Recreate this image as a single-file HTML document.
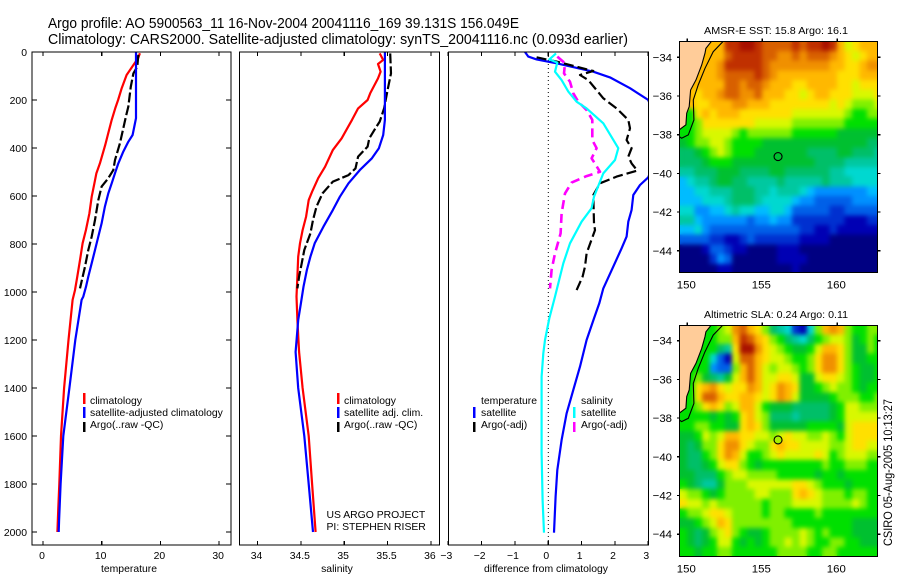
<!DOCTYPE html>
<html>
<head>
<meta charset="utf-8">
<title>Argo profile 5900563_11</title>
<style>
html,body{margin:0;padding:0;background:#fff;}
svg{display:block;font-family:"Liberation Sans",sans-serif;}
text{fill:#000;font-size:10.4px;}
.title{font-size:14.5px;}
.map-tick{font-size:11.4px;}
.frame{fill:none;stroke:#000;stroke-width:1.4;shape-rendering:crispEdges;}
.mid{text-anchor:middle;}
.end{text-anchor:end;}
</style>
</head>
<body>
<svg id="chart" xmlns="http://www.w3.org/2000/svg" width="900" height="580" viewBox="0 0 900 580">
  <defs>
    <clipPath id="clip-temp"><rect x="32" y="52" width="199" height="493"/></clipPath>
    <clipPath id="clip-sal"><rect x="239.5" y="52" width="199.5" height="493"/></clipPath>
    <clipPath id="clip-diff"><rect x="448.5" y="52" width="199.5" height="493"/></clipPath>
    <clipPath id="clip-map1"><rect x="679.5" y="41.5" width="198" height="231"/></clipPath>
    <clipPath id="clip-map2"><rect x="679.5" y="325.5" width="198" height="231"/></clipPath>
    <filter id="soften" x="0" y="0" width="100%" height="100%" color-interpolation-filters="sRGB">
      <feGaussianBlur in="SourceGraphic" stdDeviation="2.4" result="b"/>
      <feMerge><feMergeNode in="SourceGraphic"/><feMergeNode in="b"/></feMerge>
    </filter>
  </defs>

  <text class="title" x="48" y="28" textLength="471" lengthAdjust="spacingAndGlyphs">Argo profile: AO 5900563_11 16-Nov-2004 20041116_169 39.131S 156.049E</text>
  <text class="title" x="48" y="44" textLength="580" lengthAdjust="spacingAndGlyphs">Climatology: CARS2000. Satellite-adjusted climatology: synTS_20041116.nc (0.093d earlier)</text>

  <g id="temp-panel"></g>
  <g id="sal-panel"></g>
  <g id="diff-panel"></g>
  <g id="map1"></g>
  <g id="map2"></g>

  <text class="mid" x="129" y="572">temperature</text>
  <text class="mid" x="337" y="572">salinity</text>
  <text class="mid" x="546" y="572">difference from climatology</text>

  <g>
    <rect x="83" y="393" width="2.5" height="11" fill="#f00"/>
    <rect x="83" y="407" width="2.5" height="11" fill="#00f"/>
    <rect x="83" y="422" width="2.5" height="10" fill="#000"/>
    <text x="90" y="404">climatology</text>
    <text x="90" y="416">satellite-adjusted climatology</text>
    <text x="90" y="428">Argo(..raw -QC)</text>
  </g>
  <g>
    <rect x="337" y="393" width="2.5" height="11" fill="#f00"/>
    <rect x="337" y="407" width="2.5" height="11" fill="#00f"/>
    <rect x="337" y="422" width="2.5" height="10" fill="#000"/>
    <text x="344" y="404">climatology</text>
    <text x="344" y="416">satellite adj. clim.</text>
    <text x="344" y="428">Argo(..raw -QC)</text>
    <text x="326.5" y="518">US ARGO PROJECT</text>
    <text x="326.5" y="530">PI: STEPHEN RISER</text>
  </g>
  <g>
    <rect x="473" y="407" width="2.5" height="11" fill="#00f"/>
    <rect x="473" y="422" width="2.5" height="10" fill="#000"/>
    <rect x="573" y="407" width="2.5" height="11" fill="#0ff"/>
    <rect x="573" y="422" width="2.5" height="10" fill="#f0f"/>
    <text x="481" y="404">temperature</text>
    <text x="481" y="416">satellite</text>
    <text x="481" y="428">Argo(-adj)</text>
    <text x="581" y="404">salinity</text>
    <text x="581" y="416">satellite</text>
    <text x="581" y="428">Argo(-adj)</text>
  </g>

  <text class="mid" x="776" y="34" textLength="144" lengthAdjust="spacingAndGlyphs">AMSR-E SST: 15.8 Argo: 16.1</text>
  <text class="mid" x="776" y="318" textLength="144" lengthAdjust="spacingAndGlyphs">Altimetric SLA: 0.24 Argo: 0.11</text>
  <text transform="translate(892,546) rotate(-90)" textLength="147" lengthAdjust="spacingAndGlyphs" style="font-size:12px">CSIRO 05-Aug-2005 10:13:27</text>
</svg>

<script>
// ---------- profile data ----------
const depthTicks = [0,200,400,600,800,1000,1200,1400,1600,1800,2000];
const tempTicks = [0,10,20,30];
const salTicks = [34,34.5,35,35.5,36];
const salTickLabels = ['34','34.5','35','35.5','36'];
const diffTicks = [-3,-2,-1,0,1,2,3];

const tempClimDepth = [5,26,54,96,151,200,235,283,339,388,464,505,547,603,672,742,797,867,936,992,1033,1200,1400,1600,1800,1900,2000];
const tempClim = [16.5,16.2,15.4,14.25,13.4,12.8,12.3,11.7,11.1,10.6,9.7,9.1,8.75,8.3,7.9,7.3,6.75,6.3,5.85,5.45,5.05,4.35,3.6,3.07,2.78,2.6,2.45];
const tempSatDepth = [0,276,311,346,374,415,464,505,547,589,644,714,769,825,880,936,978,1019,1033,1200,1400,1600,1800,1950,2000];
const tempSat = [15.84,15.84,15.56,15.27,14.53,13.68,12.83,12.26,11.7,11.12,10.55,9.99,9.42,8.86,8.29,7.72,7.32,6.87,6.58,5.5,4.5,3.46,3.0,2.75,2.67];
const tempArgoDepth = [12,61,89,144,228,269,318,381,450,492,526,561,617,700,769,825,894,936,985];
const tempArgo = [16.24,16.07,15.4,14.95,14.53,14.13,13.68,13.1,12.26,11.98,11.12,9.99,9.42,8.86,8.29,7.72,7.15,6.76,6.3];

const salClimDepth = [6,33,50,82,110,172,200,235,283,360,408,478,526,582,617,686,742,797,853,936,1019,1117,1250,1400,1600,1800,2000];
const salClim = [35.41,35.45,35.39,35.42,35.39,35.30,35.27,35.16,35.09,34.97,34.87,34.78,34.70,34.63,34.59,34.56,34.52,34.49,34.47,34.46,34.45,34.46,34.48,34.52,34.59,34.63,34.67];
const salSatDepth = [0,283,346,401,443,492,547,603,658,728,797,853,908,978,1047,1117,1250,1400,1600,1800,2000];
const salSat = [35.47,35.47,35.45,35.40,35.32,35.18,35.05,34.95,34.87,34.76,34.66,34.61,34.57,34.53,34.50,34.47,34.44,34.47,34.54,34.59,34.64];
const salArgoDepth = [6,89,158,235,290,318,360,394,436,485,513,540,589,644,700,756,825,881,936,985];
const salArgo = [35.53,35.54,35.50,35.46,35.41,35.36,35.29,35.27,35.16,35.13,35.05,34.87,34.75,34.68,34.64,34.61,34.54,34.51,34.48,34.46];

const diffTempSatDepth = [0,19,31,47,82,106,151,200,350,450,522,554,596,658,707,769,818,894,985,1047,1110,1200,1311,1408,1506,1617,1742,1853,2003];
const diffTempSat = [-0.70,-0.60,-0.35,0.25,1.35,1.85,2.45,3.0,3.4,3.2,3.0,2.75,2.55,2.50,2.40,2.35,2.20,1.95,1.65,1.53,1.37,1.15,0.95,0.75,0.55,0.40,0.27,0.22,0.17];
const diffSalSatDepth = [6,31,44,82,117,165,207,235,297,401,450,506,603,651,707,797,881,1019,1110,1200,1256,1353,1672,1867,2003];
const diffSalSat = [0.23,0.03,0.27,0.20,0.40,0.60,0.85,1.15,1.65,2.10,2.00,1.65,1.37,1.30,1.00,0.65,0.45,0.20,0.03,-0.10,-0.15,-0.20,-0.20,-0.17,-0.13];
const diffTempArgoDepth = [22,40,79,96,117,193,235,283,318,367,401,436,464,494,519,547,596,714,742,839,894,936,992];
const diffTempArgo = [-0.35,0.25,1.35,0.95,1.20,1.65,2.05,2.40,2.45,2.35,2.50,2.40,2.50,2.67,2.05,1.55,1.35,1.37,1.40,1.15,1.10,1.03,0.85];
const diffSalArgoDepth = [19,47,89,124,172,207,242,283,367,401,443,499,517,544,589,672,756,839,908,985];
const diffSalArgo = [0.27,0.50,0.47,0.65,0.75,0.90,1.15,1.32,1.32,1.45,1.30,1.55,1.15,0.70,0.50,0.40,0.37,0.20,0.10,0.05];

// ---------- map data ----------
const lonTicks = [150,155,160];
const latTicks = [-34,-36,-38,-40,-42,-44];
const colorLevels = ['#000082','#0000b4','#0030d0','#0060e8','#0090ff','#00bcff','#00d8d0','#00c8a0','#00bf68','#00c030','#00e000','#80f000','#d8f800','#ffe000','#ffb800','#f09000','#d86000','#c03000','#a81000'];
const sstGrid = [
[14,14,14,14,14,14,17,17,18,18,17,16,16,16,16,17,16,17,17,18,17,14,12,13,14,14,14],
[14,14,14,14,14,14,16,17,17,17,17,16,16,15,15,16,15,16,16,16,15,14,13,12,13,14,14],
[14,14,14,14,14,15,17,17,17,17,17,16,15,15,15,15,15,15,15,15,14,14,13,13,14,15,15],
[14,14,14,14,14,15,16,16,16,16,17,16,15,14,14,14,14,14,14,14,14,13,13,13,14,14,14],
[14,14,14,14,14,14,16,16,15,16,16,15,14,14,14,13,13,14,14,14,14,13,13,12,13,13,13],
[14,14,13,14,14,15,16,16,15,15,16,14,14,14,13,13,12,13,14,14,13,13,13,12,12,12,13],
[14,14,13,13,14,14,14,15,15,14,14,14,13,13,13,13,13,13,13,13,12,13,12,11,11,11,12],
[10,10,13,14,13,14,14,14,13,13,13,13,13,13,13,12,12,12,12,12,12,12,11,10,10,11,11],
[10,10,11,13,13,13,13,13,13,13,12,12,12,12,12,11,11,11,11,11,11,11,10,10,10,10,10],
[10,10,11,12,12,12,12,11,10,11,11,11,11,11,11,10,10,10,10,10,10,9,9,9,9,9,9],
[9,10,11,11,12,12,11,10,10,10,10,9,9,9,9,9,9,9,9,9,9,9,9,9,9,8,8],
[8,8,9,10,11,12,11,10,10,10,9,9,9,9,9,9,9,8,8,8,8,9,9,8,8,8,7],
[8,8,8,9,10,10,10,9,9,9,9,9,9,9,9,9,9,9,8,8,8,8,7,7,7,7,7],
[7,7,8,8,8,9,9,9,8,8,8,8,9,9,8,8,8,8,8,8,7,7,6,6,6,6,6],
[5,6,7,7,8,9,9,8,8,7,7,7,7,8,7,7,7,7,7,8,7,7,7,6,6,6,6],
[5,5,6,6,7,7,7,8,8,8,7,7,6,7,7,7,6,5,4,4,4,4,4,4,4,5,5],
[5,5,5,6,6,6,7,8,8,8,7,6,6,6,6,5,4,4,3,3,3,3,3,4,4,4,4],
[6,6,4,4,5,5,6,7,6,6,5,5,6,6,5,3,3,3,3,3,2,2,3,3,3,3,3],
[7,7,5,4,4,4,4,4,4,3,4,4,5,4,4,2,2,2,2,2,2,2,1,1,1,2,2],
[5,5,6,4,3,3,3,3,3,3,3,3,3,3,3,3,2,2,1,1,2,1,1,1,1,1,1],
[3,3,3,3,2,2,1,1,2,3,2,2,2,2,2,2,1,1,1,1,0,0,0,0,0,0,0],
[0,0,0,1,3,3,2,1,1,0,0,0,0,1,1,1,0,0,0,0,0,0,0,0,0,0,0],
[0,0,0,0,2,4,3,0,0,0,0,0,0,1,1,1,1,0,0,0,0,0,0,0,0,0,0],
[0,0,0,0,0,1,1,0,0,0,0,0,0,0,0,1,0,0,0,0,0,0,0,0,0,0,0]
];
const slaGrid = [
[10,10,10,10,10,11,12,15,16,14,13,11,8,7,6,2,1,6,11,14,15,14,11,10,10,11,11],
[10,10,10,10,10,11,11,14,17,16,14,13,11,10,8,7,6,8,10,11,12,12,11,9,10,11,10],
[10,10,10,10,10,8,7,13,18,18,15,13,12,11,10,9,9,10,12,14,14,13,11,9,9,11,10],
[10,10,10,10,6,3,1,12,16,16,14,13,12,12,11,10,10,11,13,15,15,13,11,9,9,10,10],
[10,10,10,10,4,3,3,11,14,16,14,12,11,12,12,11,10,11,13,15,15,13,11,10,9,9,10],
[10,10,11,9,8,7,9,12,14,16,14,12,12,13,13,12,9,9,12,13,13,12,11,10,9,9,10],
[10,10,13,14,15,13,12,13,13,15,14,12,13,15,14,13,9,9,10,11,12,11,11,10,9,10,10],
[10,10,13,16,16,14,13,13,14,14,13,12,13,15,14,12,9,9,9,9,10,11,11,11,10,10,11],
[10,10,11,13,14,13,11,12,14,14,12,10,9,9,9,8,8,8,8,8,9,10,12,12,11,11,11],
[10,10,10,10,9,10,9,10,13,14,12,11,8,8,8,7,8,8,8,8,9,10,12,12,12,12,12],
[10,10,11,11,10,10,9,9,13,14,13,11,9,9,9,9,9,10,10,10,10,9,12,13,13,13,13],
[9,9,10,12,11,12,14,14,13,13,12,12,11,12,13,12,12,11,11,12,11,10,12,13,13,13,13],
[9,8,9,11,11,13,15,15,13,12,11,11,13,14,13,13,12,12,12,12,11,11,12,13,13,12,12],
[9,8,8,10,11,13,15,14,12,10,10,11,12,13,12,12,12,12,13,12,10,11,12,12,12,11,11],
[9,8,8,9,10,12,13,13,11,10,9,10,10,10,10,10,10,10,10,11,10,10,11,11,11,10,10],
[9,9,8,8,8,10,11,12,12,11,11,11,11,10,10,10,10,10,9,10,10,9,10,10,10,10,10],
[10,9,8,7,7,9,11,11,11,12,12,12,12,12,12,13,13,12,11,10,10,10,9,10,10,10,10],
[12,11,11,10,9,10,11,11,11,11,12,12,11,11,11,13,14,13,12,11,11,11,10,11,11,10,10],
[13,12,12,11,12,11,11,11,11,11,11,10,11,11,11,12,12,12,12,11,11,11,11,12,11,10,10],
[10,11,11,12,13,13,12,11,11,11,11,10,11,11,10,10,10,10,11,10,10,10,10,10,10,10,10],
[9,9,10,11,12,14,13,11,11,11,11,11,11,11,11,10,10,10,10,10,10,10,10,9,9,9,9],
[10,9,8,9,11,12,13,11,10,9,9,10,11,11,11,11,12,11,10,11,10,10,10,9,9,9,9],
[10,9,8,9,10,12,12,10,9,10,9,10,11,11,12,11,12,11,10,10,11,11,10,10,9,9,9],
[10,10,9,10,10,11,11,10,10,10,10,10,10,11,11,11,11,10,10,11,11,10,10,10,10,10,10]
];
const coastLon = [151.62,151.24,151.18,150.96,150.58,150.22,150.13,149.96,149.91,149.51,149.47];
const coastLat = [-33.17,-33.54,-33.79,-34.40,-35.17,-35.69,-36.55,-36.89,-37.49,-37.72,-37.75];
const isobathLon = [152.40,151.73,151.18,150.73,150.40,150.44,150.07,149.62,149.47];
const isobathLat = [-33.17,-33.71,-34.57,-35.43,-36.20,-37.24,-38.01,-38.18,-38.10];
const floatLon = 156.05;
const floatLat = -39.13;

// ---------- axis functions ----------
const NS = 'http://www.w3.org/2000/svg';
const yDepth = d => 52 + 0.24 * d;
const xTemp = v => 43 + 5.87 * v;
const xSal = v => 257.5 + (v - 34) * 86.7;
const xDiff = v => 548.3 + v * 33.33;
const xLon = v => 687.3 + (v - 150) * 15;
const yLat1 = v => 57.3 + (-34 - v) * 19.35;
const yLat2 = v => 340.7 + (-34 - v) * 19.35;

function mk(parent, tag, attrs) {
  const el = document.createElementNS(NS, tag);
  for (const k in attrs) el.setAttribute(k, attrs[k]);
  parent.appendChild(el);
  return el;
}

function tickMark(parent, x1, y1, x2, y2) {
  const el = mk(parent, 'line', {x1, y1, x2, y2, stroke: '#000', 'stroke-width': 1.2, 'shape-rendering': 'crispEdges'});
  
  
}

function tickLabel(parent, x, y, anchor, str, cls) {
  const el = mk(parent, 'text', {x, y, 'text-anchor': anchor});
  if (cls) el.setAttribute('class', cls);
  el.textContent = str;
  
  
}

function curve(parent, clip, xs, ys, xf, color, width, dash, name) {
  const pts = xs.map((v, i) => xf(v).toFixed(1) + ',' + yDepth(ys[i]).toFixed(1)).join(' ');
  const attrs = {points: pts, fill: 'none', stroke: color, 'stroke-width': width, 'clip-path': 'url(#' + clip + ')', 'stroke-linejoin': 'round'};
  if (dash) attrs['stroke-dasharray'] = dash;
  const el = mk(parent, 'polyline', attrs);
  
  
}

function frame(parent, x, y, w, h) {
  const el = mk(parent, 'rect', {x, y, width: w, height: h, class: 'frame'});
  
  
}

// ---------- profile panels ----------
const tempG = document.getElementById('temp-panel');
curve(tempG, 'clip-temp', tempClim, tempClimDepth, xTemp, '#f00', 2.2, '', 'temperature-climatology-line');
curve(tempG, 'clip-temp', tempArgo, tempArgoDepth, xTemp, '#000', 2.2, '10 3', 'temperature-argo-line');
curve(tempG, 'clip-temp', tempSat, tempSatDepth, xTemp, '#00f', 2.2, '', 'temperature-satellite-line');
frame(tempG, 32, 52, 199, 493);
tempTicks.forEach(v => {
  tickMark(tempG, xTemp(v), 52, xTemp(v), 56);
  tickMark(tempG, xTemp(v), 545, xTemp(v), 541);
  tickLabel(tempG, xTemp(v) - 1, 559, 'middle', String(v));
});
depthTicks.forEach(v => {
  tickMark(tempG, 32, yDepth(v), 37, yDepth(v));
  tickMark(tempG, 231, yDepth(v), 226, yDepth(v));
  tickLabel(tempG, 27, yDepth(v) + 4, 'end', String(v));
});

const salG = document.getElementById('sal-panel');
curve(salG, 'clip-sal', salClim, salClimDepth, xSal, '#f00', 2.2, '', 'salinity-climatology-line');
curve(salG, 'clip-sal', salArgo, salArgoDepth, xSal, '#000', 2.2, '10 3', 'salinity-argo-line');
curve(salG, 'clip-sal', salSat, salSatDepth, xSal, '#00f', 2.2, '', 'salinity-satellite-line');
frame(salG, 239.5, 52, 200, 493);
salTicks.forEach((v, i) => {
  tickMark(salG, xSal(v), 52, xSal(v), 56);
  tickMark(salG, xSal(v), 545, xSal(v), 541);
  tickLabel(salG, xSal(v) - 1, 559, 'middle', salTickLabels[i]);
});

const diffG = document.getElementById('diff-panel');
const zeroLine = mk(diffG, 'line', {x1: xDiff(0), y1: 52, x2: xDiff(0), y2: 545, stroke: '#000', 'stroke-width': 1, 'stroke-dasharray': '1 3'});


curve(diffG, 'clip-diff', diffTempSat, diffTempSatDepth, xDiff, '#00f', 2.2, '', 'difference-temperature-satellite-line');
curve(diffG, 'clip-diff', diffTempArgo, diffTempArgoDepth, xDiff, '#000', 2.2, '10 4', 'difference-temperature-argo-line');
curve(diffG, 'clip-diff', diffSalArgo, diffSalArgoDepth, xDiff, '#f0f', 2.6, '9 5', 'difference-salinity-argo-line');
curve(diffG, 'clip-diff', diffSalSat, diffSalSatDepth, xDiff, '#0ff', 2.2, '', 'difference-salinity-satellite-line');
frame(diffG, 448.5, 52, 200, 493);
diffTicks.forEach(v => {
  tickMark(diffG, xDiff(v), 52, xDiff(v), 56);
  tickMark(diffG, xDiff(v), 545, xDiff(v), 541);
  tickLabel(diffG, xDiff(v) - 2, 559, 'middle', String(v).replace('-', '\u2212'));
});

// ---------- maps ----------
function drawMap(g, grid, yLat, clip, top, bottom, floatFill, cellName) {
  const startLon = 149.47, startLat = -33.17;
  const clipLayer = mk(g, 'g', {'clip-path': 'url(#' + clip + ')'});
  
  
  const cellsLayer = mk(clipLayer, 'g', {filter: 'url(#soften)'});
  
  
  grid.forEach((row, r) => {
    row.forEach((level, c) => {
      const x0 = xLon(startLon + c * 0.5);
      const y0 = yLat(startLat - r * 0.5);
      const cell = mk(cellsLayer, 'rect', {x: x0.toFixed(2), y: y0.toFixed(2), width: 7.8, height: 10, fill: colorLevels[level], 'shape-rendering': 'crispEdges'});
      
      
    });
  });
  const landPts = coastLon.map((v, i) => xLon(v).toFixed(1) + ',' + yLat(coastLat[i]).toFixed(1));
  landPts.push(xLon(149.47).toFixed(1) + ',' + yLat(-33.17).toFixed(1));
  const land = mk(g, 'polygon', {points: landPts.join(' '), fill: '#ffcc99', 'clip-path': 'url(#' + clip + ')'});
  
  
  const coast = mk(g, 'polyline', {points: coastLon.map((v, i) => xLon(v).toFixed(1) + ',' + yLat(coastLat[i]).toFixed(1)).join(' '), fill: 'none', stroke: '#000', 'stroke-width': 1.1, 'clip-path': 'url(#' + clip + ')'});
  
  
  const iso = mk(g, 'polyline', {points: isobathLon.map((v, i) => xLon(v).toFixed(1) + ',' + yLat(isobathLat[i]).toFixed(1)).join(' '), fill: 'none', stroke: '#000', 'stroke-width': 1.1, 'clip-path': 'url(#' + clip + ')'});
  
  
  const pt = mk(g, 'circle', {cx: xLon(floatLon), cy: yLat(floatLat), r: 4, fill: floatFill, stroke: '#000', 'stroke-width': 1.1});
  
  
  frame(g, 679.5, top, 198, bottom - top);
  lonTicks.forEach(v => {
    tickMark(g, xLon(v), top, xLon(v), top - 3);
    tickLabel(g, xLon(v) - 1, bottom + 16, 'middle', String(v), 'map-tick');
  });
  latTicks.forEach(v => {
    tickMark(g, 877.5, yLat(v), 880.5, yLat(v));
    tickMark(g, 679.5, yLat(v), 677, yLat(v));
    tickLabel(g, 672, yLat(v) + 4, 'end', '\u2212' + Math.abs(v), 'map-tick');
  });
}
drawMap(document.getElementById('map1'), sstGrid, yLat1, 'clip-map1', 41.5, 272.5, '#00c030', 'sst-cell');
drawMap(document.getElementById('map2'), slaGrid, yLat2, 'clip-map2', 325.5, 556.5, '#a8f000', 'sla-cell');
</script>
</body>
</html>
